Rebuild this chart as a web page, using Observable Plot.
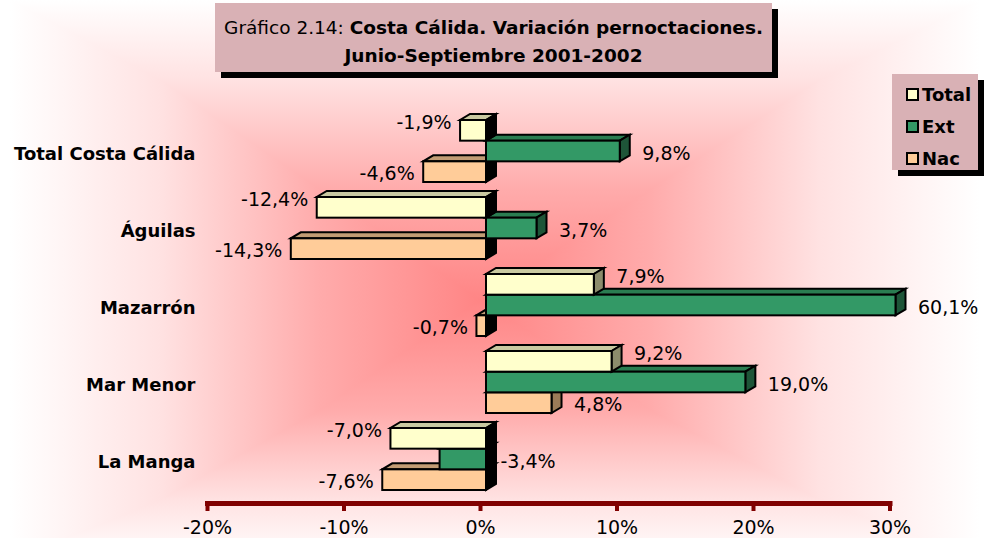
<!DOCTYPE html>
<html>
<head>
<meta charset="utf-8">
<script src="https://cdn.jsdelivr.net/npm/d3@7"></script>
<script src="https://cdn.jsdelivr.net/npm/@observablehq/plot@0.6"></script>
<style>
html, body { margin: 0; padding: 0; background: #fff; }
#wrap {
  position: relative; width: 987px; height: 538px; overflow: hidden;
  background-image:
    linear-gradient(to right, #fff 10px, #ffe2e2 160px, #ffabab 320px, #ff8585 480px, #ffabab 650px, #ffe2e2 820px, #fff 980px),
    linear-gradient(to bottom, #fff 0px, #ffe2e2 80px, #ffabab 190px, #ff8585 300px, #ffabab 410px, #ffe2e2 500px, #fff4f4 538px);
  background-blend-mode: lighten;
  font-family: "DejaVu Sans", sans-serif; color: #000;
}
#wrap svg { position: absolute; left: 0; top: 0; }
#title {
  position: absolute; left: 215px; top: 3px; width: 557px; height: 69px;
  background: #d9b1b5; box-shadow: 6px 6px 0 #000; text-align: center;
  font-size: 18.5px; line-height: 28px; padding-top: 11px; box-sizing: border-box;
}
#legend {
  position: absolute; left: 892px; top: 74px; width: 86px; height: 96px;
  background: #d9b1b5; box-shadow: 6px 6px 0 #000; box-sizing: border-box;
  padding: 4px 0 0 14px; font-weight: bold; font-size: 18px;
}
#legend .row { height: 32px; display: flex; align-items: center; }
#legend .sw { width: 9px; height: 9px; border: 2px solid #000; margin-right: 3px; }
</style>
</head>
<body>
<div id="wrap">
  <div id="title"><span>Gráfico 2.14: </span><b>Costa Cálida. Variación pernoctaciones.</b><br><b>Junio-Septiembre 2001-2002</b></div>
  <div id="legend"></div>
</div>
<script>
const regions = ["Total Costa Cálida", "Águilas", "Mazarrón", "Mar Menor", "La Manga"];
const seriesNames = ["Total", "Ext", "Nac"];
const totalValues = [-1.9, -12.4, 7.9, 9.2, -7.0];
const extValues = [9.8, 3.7, 60.1, 19.0, -3.4];
const nacValues = [-4.6, -14.3, -0.7, 4.8, -7.6];
const xTicks = [-20, -10, 0, 10, 20, 30];

const fillColors = ["#ffffcc", "#339966", "#ffcc99"];
const topColors = ["#c9c9a1", "#2a7d51", "#c29c74"];
const sideColors = ["#8c8c6c", "#1e5538", "#9c7b58"];

const valuesBySeries = [totalValues, extValues, nacValues];
const rows = seriesNames.flatMap((s, k) =>
  regions.map((r, i) => ({region: r, series: s, k, value: valuesBySeries[k][i]})));

const fmt = d => d.value.toFixed(1).replace(".", ",") + "%";
const BW = 62, THIRD = BW / 3;
const DX = 10, DY = 6;
const labelDy = [-29, 2, 22];

function threeD(k) {
  return (index, scales, values, dimensions, context, next) => {
    const g = next(index, scales, values, dimensions, context);
    const x0 = scales.x(0);
    const ns = "http://www.w3.org/2000/svg";
    const pts = a => a.map(p => p.join(",")).join(" ");
    for (const r of Array.from(g.querySelectorAll("rect"))) {
      const x = +r.getAttribute("x"), y = +r.getAttribute("y");
      const w = +r.getAttribute("width"), h = +r.getAttribute("height");
      const neg = x + w <= x0 + 0.5;
      const top = document.createElementNS(ns, "polygon");
      top.setAttribute("points", pts([[x, y], [x + w, y], [x + w + DX, y - DY], [x + DX, y - DY]]));
      top.setAttribute("fill", topColors[k]);
      const side = document.createElementNS(ns, "polygon");
      side.setAttribute("points", pts([[x + w, y], [x + w + DX, y - DY], [x + w + DX, y + h - DY], [x + w, y + h]]));
      side.setAttribute("fill", neg ? "#000" : sideColors[k]);
      g.insertBefore(top, r);
      g.insertBefore(side, r);
    }
    return g;
  };
}

const marks = [];
// draw lower series first so upper bars overlap
for (const k of [2, 1, 0]) {
  marks.push(Plot.barX(rows.filter(d => d.k === k), {
    x: "value", y: "region", fill: fillColors[k], stroke: "#000", strokeWidth: 2,
    insetTop: k * THIRD, insetBottom: (2 - k) * THIRD, render: threeD(k)
  }));
}
for (const k of [0, 1, 2]) {
  marks.push(Plot.text(rows.filter(d => d.k === k && d.value >= 0), {
    x: "value", y: "region", text: fmt, textAnchor: "start", dx: 22, dy: labelDy[k], fontSize: 19
  }));
  if (k === 1) {
    marks.push(Plot.text(rows.filter(d => d.k === k && d.value < 0), {
      x: d => 0, y: "region", text: fmt, textAnchor: "start", dx: 14, dy: labelDy[k], fontSize: 19
    }));
  } else {
    marks.push(Plot.text(rows.filter(d => d.k === k && d.value < 0), {
      x: "value", y: "region", text: fmt, textAnchor: "end", dx: -9, dy: labelDy[k], fontSize: 19
    }));
  }
}
marks.push(Plot.frame({anchor: "bottom", stroke: "#800000", strokeWidth: 5, dx: -6}));
marks.push(Plot.axisX({
  ticks: xTicks, tickFormat: d => d + "%", tickSize: 8, tickPadding: 9,
  stroke: "#800000", strokeWidth: 4, fill: "#000", fontSize: 19, dx: -6, label: null
}));
marks.push(Plot.axisY({
  tickSize: 0, tickPadding: 18, fontSize: 18, fontWeight: "bold", dy: 3, label: null, fill: "#000"
}));

const chart = Plot.plot({
  width: 987, height: 538,
  marginLeft: 213, marginRight: 91.5, marginTop: 100, marginBottom: 35,
  x: {domain: [-20, 30], clamp: true},
  y: {domain: regions, range: [103.5, 506.5], padding: 0.2},
  style: {background: "transparent", fontFamily: "DejaVu Sans", color: "#000", overflow: "visible"},
  marks
});
document.getElementById("wrap").prepend(chart);

const legend = document.getElementById("legend");
seriesNames.forEach((s, k) => {
  const row = document.createElement("div");
  row.className = "row";
  const sw = document.createElement("span");
  sw.className = "sw";
  sw.style.background = fillColors[k];
  const t = document.createElement("span");
  t.textContent = s;
  row.append(sw, t);
  legend.append(row);
});
</script>
</body>
</html>
